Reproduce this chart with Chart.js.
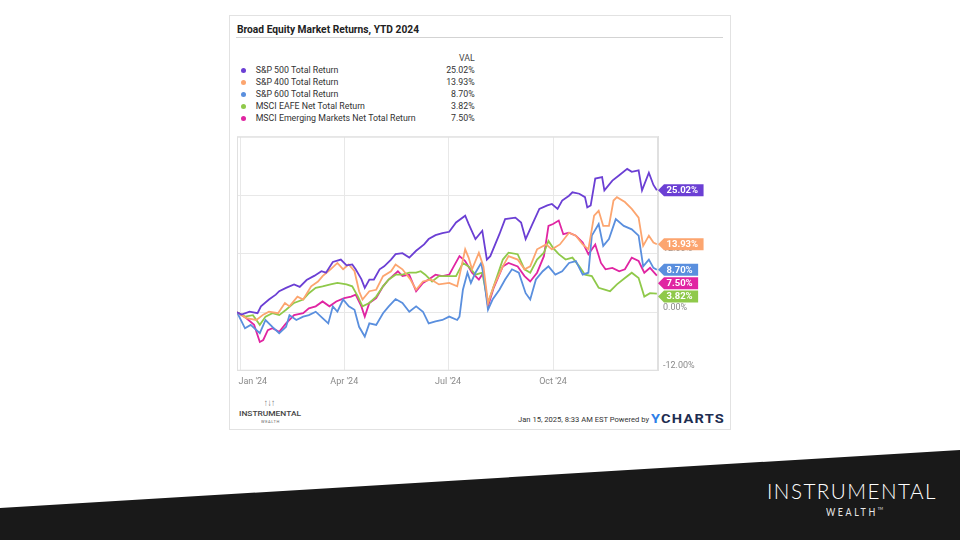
<!DOCTYPE html>
<html>
<head>
<meta charset="utf-8">
<script src="https://cdn.jsdelivr.net/npm/chart.js@4.4.1/dist/chart.umd.min.js"></script>
<style>
  body { margin: 0; width: 960px; height: 540px; overflow: hidden; background: #fff; font-family: Roboto, sans-serif; position: relative; }
  .t { position: absolute; white-space: nowrap; line-height: 1; transform-origin: left center; }
  #card { position: absolute; left: 229px; top: 15px; width: 500px; height: 413px; border: 1px solid #e2e2e2; }
  #band { position: absolute; left: 0; top: 0; width: 960px; height: 540px; background: #191919;
          clip-path: polygon(0 508px, 960px 450px, 960px 540px, 0 540px); }
  .dot { position: absolute; width: 5px; height: 5px; border-radius: 50%; }
</style>
</head>
<body>
<div id="card"></div>
<div id="band"></div>

<div class="t" data-w="182" style="left:237.3px;top:23.5px;font-size:11.3px;font-weight:bold;color:#222">Broad Equity Market Returns, YTD 2024</div>
<div style="position:absolute;left:236px;top:37px;width:487px;height:1px;background:#d3d3d3"></div>
<div class="t" style="right:485.3px;top:54px;font-size:8.8px;color:#444">VAL</div>
<div id="legend"></div>

<canvas id="chart" width="502" height="270" style="position:absolute;left:229px;top:126px;width:502px;height:270px"></canvas>

<div class="t" data-w="11" style="left:263.5px;top:397.5px;font-size:9.5px;color:#666">↑↓↑</div>
<div class="t" data-w="62" style="left:239.3px;top:410.6px;font-size:7px;font-weight:500;color:#444">INSTRUMENTAL</div>
<div class="t" data-w="19" style="left:261px;top:420.5px;font-size:3.2px;color:#666;letter-spacing:0.5px">WEALTH</div>

<div class="t" data-w="131" style="left:518px;top:416px;font-size:8px;color:#333">Jan 15, 2025, 8:33 AM EST Powered by</div>
<div class="t" data-w="74" style="left:651px;top:413.2px;font-size:12px;font-weight:bold;letter-spacing:1px"><span style="color:#2e7fe8">Y</span><span style="color:#1d2d50">CHARTS</span></div>

<div class="t" data-w="170" style="left:766.5px;top:480px;font-size:21px;font-family:Lato,sans-serif;font-weight:300;color:#fff;letter-spacing:1.5px">INSTRUMENTAL</div>
<div class="t" data-w="57" style="left:826px;top:506.5px;font-size:10.5px;font-family:Lato,sans-serif;color:#e8e8e8;letter-spacing:3px">WEALTH<span style="font-size:4px;vertical-align:top;letter-spacing:0">TM</span></div>

<script>
// Series names and colours
const seriesNames = ["S&P 500 Total Return", "S&P 400 Total Return", "S&P 600 Total Return",
    "MSCI EAFE Net Total Return", "MSCI Emerging Markets Net Total Return"];
const seriesColors = ["#6b3fd4", "#fca56f", "#5a8fde", "#8fc94a", "#e025a2"];

// x values are days from Jan 1 2024, y values are YTD return in %
const sp500Days = [-3,1,8,15,18,25,31,34,40,47,52,58,65,71,75,81,88,93,98,101,106,109,113,117,122,126,132,136,142,148,154,161,165,171,177,183,189,197,200,206,212,216,219,227,232,241,246,250,256,262,269,273,278,282,288,291,297,302,304,307,311,317,319,326,332,339,343,349,352,358,362,365];
const sp500 = [0,-0.5,0.1,-0.2,1.2,2.6,3.6,4.3,5.0,5.7,5.2,6.6,7.5,8.4,8.1,10.3,10.8,9.6,9.8,8.8,6.8,5.0,6.7,6.7,8.8,9.4,10.8,11.9,12.1,11.2,12.6,13.9,15.0,15.8,16.2,16.5,18.4,19.8,18.1,15.0,16.7,10.8,11.5,16.0,19.1,19.4,18.4,15.0,18.1,21.2,21.9,22.2,21.2,22.9,23.9,24.6,24.3,23.6,21.5,21.9,27.4,27.7,25.0,27.0,28.1,29.4,28.8,29.1,25.0,28.6,26.1,25.02];

const sp400Days = [-3,5,14,20,25,33,39,43,50,55,62,68,72,79,85,90,95,100,104,107,113,119,125,132,136,142,149,154,160,167,174,183,190,197,200,203,209,213,217,222,230,235,243,249,254,260,268,273,280,288,294,300,305,310,314,318,323,327,330,337,343,349,353,358,362,365];
const sp400 = [0,-1.2,-1.6,-0.5,0.1,-0.2,1.9,1.2,3.2,2.6,5.3,6.3,7.4,8.8,10.1,8.8,9.8,8.4,4.3,2.6,4.3,4.6,7.4,8.4,9.8,8.8,6.7,4.6,6.3,6.7,5.7,6.0,5.3,12.9,11.2,8.8,12.2,9.4,1.9,5.3,9.4,11.5,10.8,8.8,9.4,12.9,13.9,12.9,13.9,16.3,15.7,13.9,12.9,19.8,20.8,17.7,17.7,22.9,23.6,22.6,21.2,19.4,13.6,15.7,14.3,13.93];

const sp600Days = [-3,4,9,17,22,28,34,40,43,49,55,60,66,72,77,81,85,90,95,100,104,109,113,119,125,130,136,142,148,154,160,165,171,177,183,190,192,195,199,202,206,211,213,217,221,227,232,238,244,250,254,259,265,270,276,282,288,294,300,305,308,314,318,323,329,336,343,349,353,358,362,365];
const sp600 = [0,-3.3,-2.6,-4.3,-1.6,-3.0,-4.3,-3.0,-0.6,-1.6,-0.9,-0.6,0.1,-1.2,-2.3,1.2,0.1,2.6,1.2,0.5,-3.0,-5.0,-2.3,-2.6,-0.2,1.2,2.7,1.9,0.1,1.2,0.1,-2.3,-1.9,-1.6,-0.9,-1.6,-0.9,4.6,8.1,6.0,8.1,10.1,7.7,0.5,2.6,4.6,6.7,8.8,8.1,3.9,2.6,6.7,8.4,9.4,7.7,8.4,10.1,10.5,7.7,8.1,15.7,18.1,13.6,15.0,19.1,17.7,17.0,15.7,9.4,10.8,9.1,8.70];

const eafeDays = [-3,4,11,17,22,28,34,40,47,55,60,66,72,79,85,93,98,103,107,113,119,125,130,136,142,148,154,158,162,168,174,180,189,195,200,206,212,217,222,230,235,243,249,254,260,266,270,274,279,285,291,297,302,308,314,320,324,330,337,343,349,354,359,365];
const eafe = [0,-0.9,-0.6,-2.6,-0.9,-0.2,-0.6,0.5,1.9,2.6,3.9,5.0,5.3,5.7,6.0,5.7,5.3,3.2,1.2,1.9,3.2,5.3,6.7,7.7,7.7,8.1,8.1,8.4,7.7,6.3,7.4,7.4,7.4,10.1,9.4,7.7,8.1,1.9,5.3,10.8,12.2,11.9,8.8,8.1,10.8,12.2,14.6,13.2,11.9,10.8,11.2,9.4,7.7,7.4,5.0,4.6,4.3,5.7,7.0,8.1,7.0,3.2,3.9,3.82];

const emDays = [-3,5,12,17,20,24,28,34,40,47,55,60,66,72,78,84,91,97,101,106,109,113,119,125,130,138,142,148,154,160,165,171,177,183,187,192,197,203,209,213,217,222,230,235,243,249,254,260,266,270,274,279,283,288,294,300,305,311,316,320,326,332,337,343,349,354,359,365];
const em = [0,-1.2,-2.6,-6.1,-5.7,-3.7,-3.3,-4.0,-2.3,-0.6,-0.2,0.8,1.2,2.2,1.2,2.2,2.9,3.2,3.6,1.2,-0.9,1.9,2.9,5.3,6.7,8.4,7.4,7.7,4.3,6.0,6.7,7.7,7.4,7.7,9.4,11.5,10.5,8.1,6.7,8.1,1.2,5.0,9.4,10.1,9.4,7.4,6.3,8.1,11.5,17.7,18.1,18.8,16.0,16.3,15.7,14.3,11.9,13.9,10.1,8.8,9.1,8.4,8.8,11.2,10.5,8.1,9.1,7.50];

// axis ticks
const xTickDays = [0, 91, 182, 274];
const xTickLabels = ["Jan '24", "Apr '24", "Jul '24", "Oct '24"];
const yTicks = [-12, 0, 12, 24, 36];

const allDays = [sp500Days, sp400Days, sp600Days, eafeDays, emDays];
const allVals = [sp500, sp400, sp600, eafe, em];

// legend table
const legend = document.getElementById("legend");
seriesNames.forEach((name, i) => {
    const c = 70 + 12 * i;
    const vals = allVals[i];
    legend.insertAdjacentHTML("beforeend",
        `<div class="dot" style="left:241.2px;top:${c - 2.5}px;background:${seriesColors[i]}"></div>` +
        `<div class="t" style="left:255.7px;top:${c - 4.3}px;font-size:8.8px;color:#333">${name.replace("&", "&amp;")}</div>` +
        `<div class="t" style="right:485.3px;top:${c - 4.3}px;font-size:8.8px;color:#333">${vals[vals.length - 1].toFixed(2)}%</div>`);
});

// light frame round the plot
const frame = {
    id: "frame",
    beforeDatasetsDraw(chart) {
        const { ctx, chartArea: a } = chart;
        ctx.save();
        ctx.strokeStyle = "#e0e0e0";
        ctx.lineWidth = 1;
        ctx.strokeRect(a.left + 0.5, a.top + 0.5, a.width - 1, a.height - 1);
        ctx.restore();
    }
};

// x labels: first one left aligned so it stays inside the card
const xLabels = {
    id: "xLabels",
    afterDraw(chart) {
        const { ctx, chartArea: a, scales: { x } } = chart;
        ctx.save();
        ctx.font = "9px Roboto";
        ctx.fillStyle = "#8a8a8a";
        ctx.textBaseline = "middle";
        xTickDays.forEach((d, i) => {
            const px = x.getPixelForValue(d);
            ctx.textAlign = i === 0 ? "left" : "center";
            ctx.fillText(xTickLabels[i], i === 0 ? px - 2 : px, a.bottom + 11.5);
        });
        ctx.restore();
    }
};

// coloured value tags at the end of each line
const endTags = {
    id: "endTags",
    afterDatasetsDraw(chart) {
        const { ctx, chartArea: a, scales: { y } } = chart;
        const tags = chart.data.datasets.map(ds => {
            const v = ds.data[ds.data.length - 1].y;
            return { v: v, y: y.getPixelForValue(v), color: ds.borderColor };
        }).sort((p, q) => p.y - q.y);
        for (let i = 1; i < tags.length; i++) {
            if (tags[i].y < tags[i - 1].y + 13.4) tags[i].y = tags[i - 1].y + 13.4;
        }
        ctx.save();
        ctx.font = "bold 9.5px Roboto";
        ctx.textBaseline = "middle";
        ctx.textAlign = "left";
        tags.forEach(t => {
            const txt = t.v.toFixed(2) + "%";
            const w = ctx.measureText(txt).width + 8;
            const x0 = a.right, h = 6;
            ctx.fillStyle = t.color;
            ctx.beginPath();
            ctx.moveTo(x0, t.y);
            ctx.lineTo(x0 + 6, t.y - h);
            ctx.lineTo(x0 + 6 + w, t.y - h);
            ctx.lineTo(x0 + 6 + w, t.y + h);
            ctx.lineTo(x0 + 6, t.y + h);
            ctx.closePath();
            ctx.fill();
            ctx.fillStyle = "#fff";
            ctx.fillText(txt, x0 + 8.5, t.y + 0.5);
        });
        ctx.restore();
    }
};

Chart.defaults.font.family = "Roboto";

const myChart = new Chart("chart", {
    type: "line",
    data: {
        datasets: seriesNames.map((name, i) => ({
            label: name,
            data: allDays[i].map((d, j) => ({ x: d, y: allVals[i][j] })),
            borderColor: seriesColors[i],
            borderWidth: 1.8,
            pointRadius: 0,
            tension: 0,
            fill: false
        }))
    },
    options: {
        responsive: false,
        animation: false,
        layout: { padding: { left: 8, top: 10.7, right: 0, bottom: 0 } },
        plugins: { legend: { display: false }, tooltip: { enabled: false } },
        scales: {
            x: {
                type: "linear",
                min: -3,
                max: 366,
                afterBuildTicks: axis => { axis.ticks = xTickDays.map(v => ({ value: v })); },
                afterFit: s => { s.height = 25.3; },
                ticks: { display: false },
                grid: { color: "#e8e8e8", drawTicks: false },
                border: { color: "#e0e0e0" }
            },
            y: {
                position: "right",
                min: -12,
                max: 36,
                afterBuildTicks: axis => { axis.ticks = yTicks.map(v => ({ value: v })); },
                afterFit: s => { s.width = 73; },
                ticks: {
                    padding: 5,
                    labelOffset: -4.5,
                    color: "#8a8a8a",
                    font: { size: 9 },
                    callback: v => (v === 36 ? "" : v.toFixed(2) + "%")
                },
                grid: { color: "#e8e8e8", drawTicks: false },
                border: { color: "#e0e0e0" }
            }
        }
    },
    plugins: [frame, xLabels, endTags]
});

// squeeze text to the widths
document.fonts.ready.then(() => {
    document.querySelectorAll("[data-w]").forEach(el => {
        const w = el.getBoundingClientRect().width;
        el.style.transform = `scaleX(${el.dataset.w / w})`;
    });
});
</script>
</body>
</html>
